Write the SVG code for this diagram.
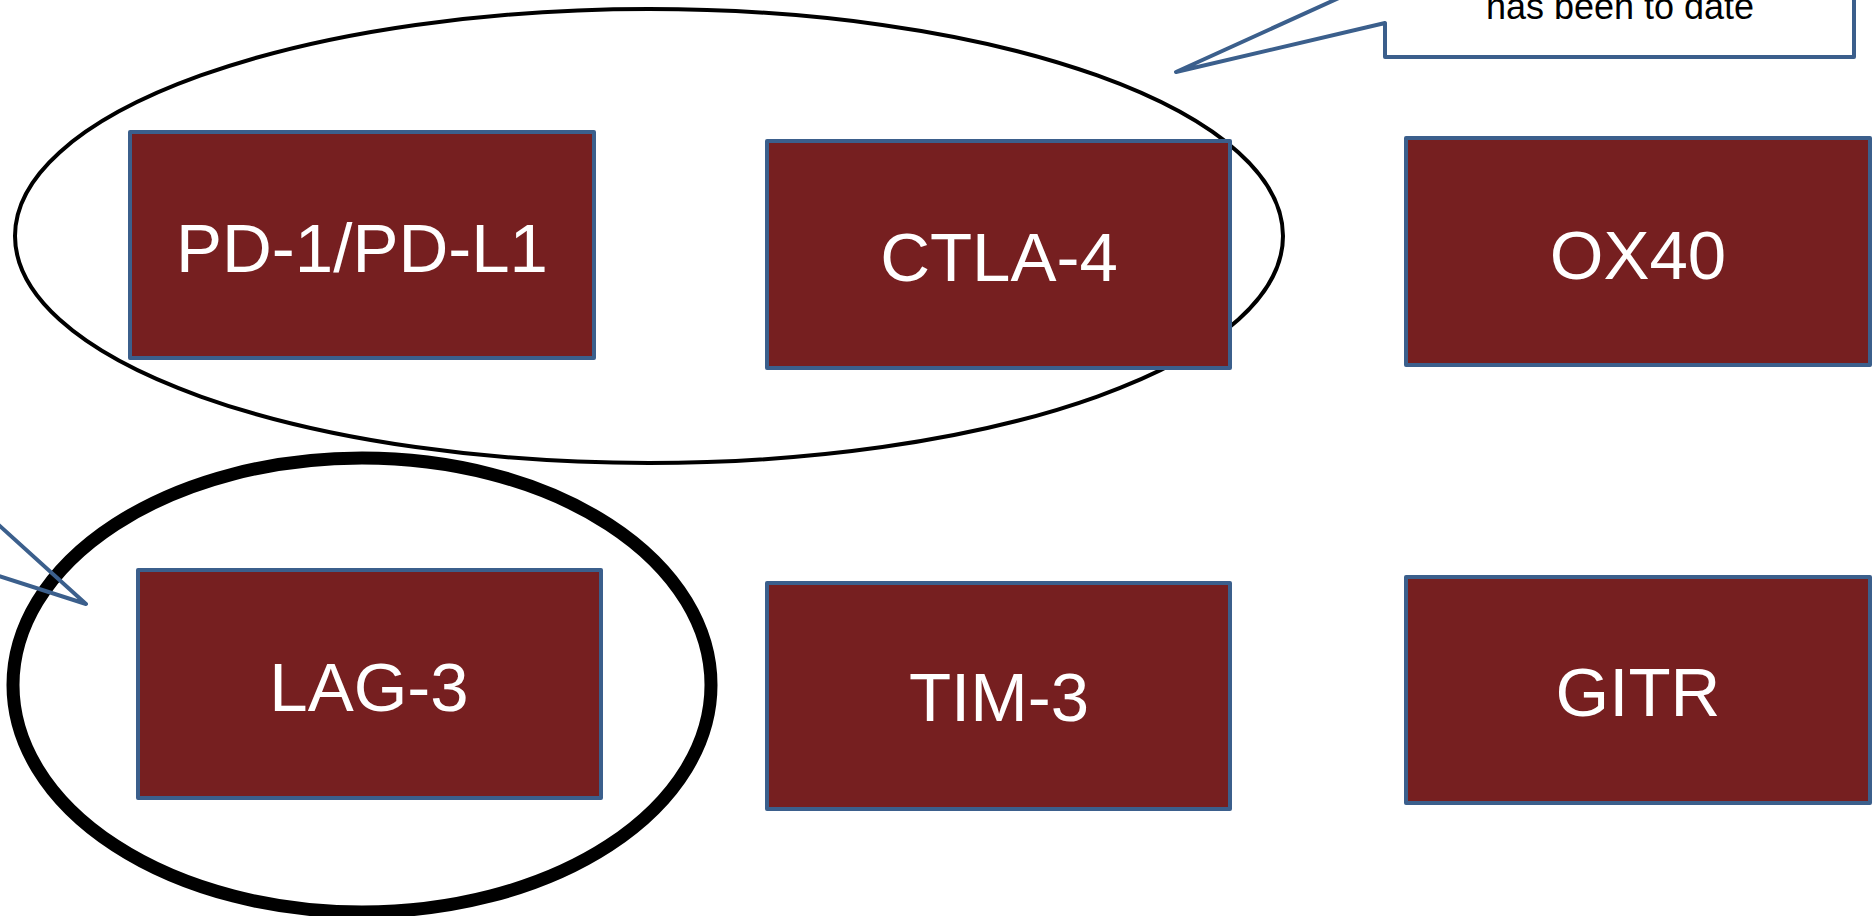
<svg xmlns="http://www.w3.org/2000/svg" width="1873" height="916" viewBox="0 0 1873 916">
<style>
.box{fill:#761F20;stroke:#3B5F8C;stroke-width:4;stroke-linejoin:round}
.lbl{fill:#FFFFFF;font-family:"Liberation Sans",Arial,sans-serif;font-size:69px;text-anchor:middle}
.call{fill:#FFFFFF;stroke:#3B5F8C;stroke-width:4;stroke-linejoin:round}
.callline{fill:none;stroke:#3B5F8C;stroke-width:4;stroke-linecap:round;stroke-linejoin:round}
.ctext{fill:#000000;font-family:"Liberation Sans",Arial,sans-serif;font-size:36px;text-anchor:middle}
</style>
<rect width="1873" height="916" fill="#FFFFFF"/>
<g id="groups">
<ellipse id="ellipse-top" cx="649" cy="236" rx="634" ry="227" fill="none" stroke="#000000" stroke-width="4"/>
<ellipse id="ellipse-lag3" cx="362" cy="685" rx="349" ry="227" fill="none" stroke="#000000" stroke-width="13"/>
</g>
<g id="node-pd1"><rect class="box" x="130" y="132" width="464" height="226"/><text class="lbl" x="362" y="272">PD-1/PD-L1</text></g>
<g id="node-ctla4"><rect class="box" x="767" y="141" width="463" height="227"/><text class="lbl" x="999" y="281">CTLA-4</text></g>
<g id="node-ox40"><rect class="box" x="1406" y="138" width="464" height="227"/><text class="lbl" x="1638" y="279">OX40</text></g>
<g id="node-lag3"><rect class="box" x="138" y="570" width="463" height="228"/><text class="lbl" x="369" y="711">LAG-3</text></g>
<g id="node-tim3"><rect class="box" x="767" y="583" width="463" height="226"/><text class="lbl" x="999" y="721">TIM-3</text></g>
<g id="node-gitr"><rect class="box" x="1406" y="577" width="464" height="226"/><text class="lbl" x="1638" y="716">GITR</text></g>
<g id="connectors">
<g id="callout-top"><path class="call" d="M1385,-23 L1176,72 L1385,23 L1385,57 L1854,57 L1854,-100 L1385,-100 Z"/><text class="ctext" x="1620" y="19">has been to date</text></g>
<g id="callout-left"><path class="callline" d="M-20,508 L86,604 L-20,570"/></g>
</g>
</svg>
